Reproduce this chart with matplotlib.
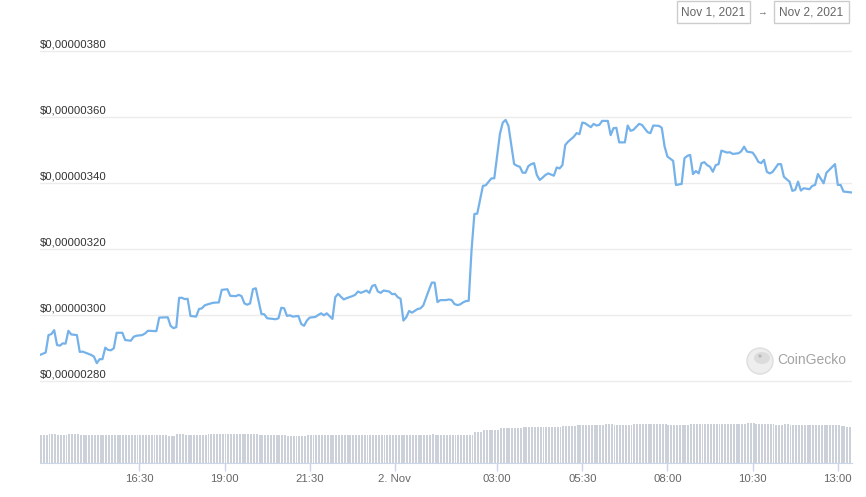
import numpy as np
import pandas as pd
import matplotlib
matplotlib.use("Agg")
import matplotlib.pyplot as plt
from matplotlib.patches import Rectangle, Circle, Ellipse

plt.rcParams['font.family'] = ['Liberation Sans', 'DejaVu Sans']

# price, in 1e-8 USD, minutes after 1 Nov 13:35
t_min = [0, 10, 15, 20, 25, 30, 35, 40, 45, 50, 55, 65, 70, 75, 90, 95, 100, 105, 110, 115,
         120, 125, 130, 135, 145, 150, 160, 165, 170, 180, 185, 190, 205, 210, 225, 230, 235, 240, 245, 250,
         255, 260, 265, 275, 280, 285, 290, 295, 305, 315, 320, 330, 335, 345, 350, 355, 360, 365, 370, 375,
         380, 390, 395, 400, 415, 420, 425, 430, 435, 440, 445, 455, 460, 465, 470, 475, 485, 490, 495, 500,
         505, 515, 520, 525, 530, 535, 540, 550, 555, 560, 565, 575, 580, 585, 590, 595, 600, 605, 615, 620,
         625, 630, 635, 640, 645, 650, 655, 665, 670, 675, 685, 690, 695, 700, 705, 715, 720, 725, 730, 735,
         740, 745, 750, 755, 760, 765, 770, 780, 785, 795, 800, 810, 815, 820, 825, 835, 840, 845, 850, 855,
         860, 865, 870, 875, 880, 885, 890, 895, 905, 910, 915, 920, 925, 930, 940, 945, 950, 955, 960, 970,
         975, 980, 985, 990, 1000, 1005, 1010, 1015, 1020, 1030, 1035, 1040, 1045, 1055, 1060, 1070, 1075, 1080, 1090, 1095,
         1100, 1105, 1115, 1120, 1130, 1135, 1140, 1145, 1150, 1155, 1160, 1165, 1170, 1175, 1180, 1185, 1190, 1195, 1200, 1210,
         1215, 1220, 1230, 1235, 1240, 1245, 1255, 1260, 1265, 1270, 1275, 1280, 1285, 1290, 1300, 1305, 1310, 1315, 1320, 1325,
         1330, 1335, 1340, 1345, 1355, 1360, 1365, 1370, 1380, 1385, 1400, 1405, 1410, 1415, 1430]
price = [288.0, 288.7, 294.0, 294.3, 295.5, 291.0, 290.8, 291.5, 291.4, 295.3, 294.2, 294.0, 288.9, 289.0, 288.0, 287.5, 285.5, 286.7, 286.7, 290.2,
         289.5, 289.4, 290.0, 294.7, 294.7, 292.5, 292.3, 293.5, 293.8, 294.0, 294.5, 295.3, 295.2, 299.3, 299.4, 296.8, 296.1, 296.4, 305.3, 305.3,
         304.9, 305.0, 299.8, 299.6, 301.9, 302.1, 303.0, 303.3, 303.8, 303.9, 307.7, 307.9, 305.9, 305.8, 306.2, 305.8, 303.6, 303.2, 303.6, 307.9,
         308.2, 300.4, 300.3, 299.1, 298.8, 299.1, 302.3, 302.1, 299.8, 300.0, 299.6, 299.8, 297.4, 296.8, 298.4, 299.3, 299.5, 300.1, 300.6, 300.0,
         300.6, 298.9, 305.5, 306.5, 305.6, 304.8, 305.2, 305.8, 306.2, 307.2, 306.8, 307.5, 306.8, 308.9, 309.2, 307.2, 306.8, 307.5, 307.2, 306.4,
         306.5, 305.5, 305.0, 298.4, 299.4, 301.3, 300.8, 301.9, 302.1, 303.0, 307.7, 309.9, 309.9, 304.0, 304.6, 304.6, 304.8, 304.6, 303.4, 303.1,
         303.3, 303.9, 304.3, 304.4, 319.8, 330.7, 330.8, 339.2, 339.4, 341.5, 341.5, 355.0, 358.4, 359.2, 357.4, 345.8, 345.3, 345.0, 343.2, 343.2,
         345.2, 345.8, 346.1, 342.5, 341.0, 341.7, 342.5, 343.0, 342.3, 344.8, 344.5, 345.5, 351.6, 352.6, 354.1, 355.2, 354.9, 358.4, 358.2, 357.0,
         358.0, 357.5, 357.7, 358.9, 358.9, 354.6, 356.7, 356.8, 352.4, 352.4, 357.5, 355.9, 356.2, 358.0, 357.7, 355.5, 355.2, 357.5, 357.4, 356.8,
         351.1, 348.1, 346.8, 339.5, 339.8, 347.6, 348.3, 348.6, 342.8, 343.7, 343.0, 346.1, 346.4, 345.5, 345.0, 343.5, 345.5, 345.8, 349.9, 349.3,
         349.4, 348.9, 349.1, 349.7, 351.1, 349.6, 349.3, 348.1, 346.5, 346.1, 347.1, 343.5, 343.0, 343.4, 345.8, 345.8, 342.0, 341.2, 340.5, 337.7,
         338.0, 340.5, 337.8, 338.5, 338.2, 339.2, 339.5, 342.8, 340.0, 343.2, 345.8, 339.5, 339.5, 337.5, 337.2]

# volume (relative), one bar per 5 minutes
volume = [28, 28, 28, 29, 29, 29, 28, 28, 28, 28, 29, 29,
          29, 29, 28, 28, 28, 28, 28, 28, 28, 28, 28, 28,
          28, 28, 28, 28, 28, 28, 28, 28, 28, 28,
          28, 28, 28, 28, 28, 28, 28, 28, 28, 28, 28, 27,
          27, 27, 29, 29, 29, 28, 28, 28, 28, 28, 28, 28,
          28, 29, 29, 29, 29, 29, 29, 29, 29, 29, 29, 29,
          29, 29, 29, 29, 29, 29, 29, 28, 28, 28, 28, 28,
          28, 28, 28, 28, 28, 27, 27, 27, 27, 27, 27, 27,
          28, 28, 28, 28, 28, 28, 28, 28, 28, 28, 28, 28,
          28, 28, 28, 28, 28, 28, 28, 28, 28, 28, 28, 28,
          28, 28, 28, 28, 28, 28, 28, 28, 28, 28, 28, 28,
          28, 28, 28, 28, 28, 28, 28, 28, 29, 28, 28, 28,
          28, 28, 28, 28, 28, 28, 28, 28, 28, 28, 28, 31,
          31, 31, 33, 33, 33, 33, 33, 33, 35, 35, 35, 35,
          35, 35, 35, 35, 36, 36, 36, 36, 36, 36, 36, 36,
          36, 36, 36, 36, 36, 36, 37, 37, 37, 37, 37, 38,
          38, 38, 38, 38, 38, 38, 38, 38, 38, 39, 39, 39,
          38, 38, 38, 38, 38, 38, 38, 39, 39, 39, 39, 39,
          39, 39, 39, 39, 39, 39, 39, 38, 38, 38, 38, 38,
          38, 38, 38, 39, 39, 39, 39, 39, 39, 39, 39, 39,
          39, 39, 39, 39, 39, 39, 39, 39, 39, 39, 39, 40,
          40, 40, 39, 39, 39, 39, 39, 39, 39, 38, 38, 38,
          39, 39, 38, 38, 38, 38, 38, 38, 38, 38, 38, 38,
          38, 38, 38, 38, 38, 38, 38, 38, 37, 37, 36, 36]

tick_times = ['2021-11-01 16:30', '2021-11-01 19:00', '2021-11-01 21:30', '2021-11-02 00:00',
              '2021-11-02 03:00', '2021-11-02 05:30', '2021-11-02 08:00', '2021-11-02 10:30',
              '2021-11-02 13:00']
tick_labels = ['16:30', '19:00', '21:30', '2. Nov', '03:00', '05:30', '08:00', '10:30', '13:00']
grid_values = [280, 300, 320, 340, 360, 380]

start = pd.Timestamp('2021-11-01 13:35')
times = start + pd.to_timedelta(t_min, unit='min')
vol_times = start + pd.to_timedelta(np.arange(len(volume)) * 5, unit='min')
x_end = start + pd.Timedelta(minutes=1430)

W, H = 866, 497
fig = plt.figure(figsize=(W / 100, H / 100), dpi=100)

# price panel
ax = fig.add_axes([40 / W, 1 - 400 / H, 812 / W, 360 / H])
ax.set_xlim(start, x_end)
ax.set_ylim(274.33e-8, 383.42e-8)
for v in grid_values:
    ax.axhline(v * 1e-8, color='#ececec', lw=1, zorder=0)
    lab = f"${v * 1e-8:.8f}".replace('.', ',')
    ax.annotate(lab, (0, v * 1e-8), xycoords=ax.get_yaxis_transform(),
                xytext=(0, 1.5), textcoords='offset points',
                ha='left', va='bottom', fontsize=8.2, color='#333333')
ax.plot(times, np.array(price) * 1e-8, color='#75b2ea', lw=1.6, zorder=3)
ax.axis('off')

# volume panel
axv = fig.add_axes([40 / W, 1 - 463 / H, 812 / W, 58 / H])
axv.bar(vol_times, volume, width=pd.Timedelta(minutes=3.4), align='edge',
        color='#ccd0d8', linewidth=0)
axv.set_xlim(start, x_end)
axv.set_ylim(0, 58)
for s in ['top', 'left', 'right']:
    axv.spines[s].set_visible(False)
axv.spines['bottom'].set_color('#ccd6eb')
axv.set_yticks([])
axv.set_xticks(pd.to_datetime(tick_times))
axv.set_xticklabels(tick_labels)
axv.tick_params(axis='x', length=6, width=1, color='#ccd6eb',
                labelcolor='#666666', labelsize=8.2, pad=2)

# overlay in pixel coordinates for the range boxes and watermark
ov = fig.add_axes([0, 0, 1, 1], facecolor='none')
ov.set_xlim(0, W)
ov.set_ylim(H, 0)
ov.axis('off')
for (x0, x1, txt) in [(677, 750, 'Nov 1, 2021'), (774, 849, 'Nov 2, 2021')]:
    ov.add_patch(Rectangle((x0, 1), x1 - x0, 22, fill=False, edgecolor='#cccccc', lw=1))
    ov.text((x0 + x1) / 2, 12.5, txt, ha='center', va='center', fontsize=8.6, color='#666666')
ov.text(761.5, 12.5, '\u2192', ha='center', va='center', fontsize=7, color='#666666')

ov.add_patch(Circle((760, 361), 13, facecolor='#eeeeee', edgecolor='#dddddd', lw=1))
ov.add_patch(Ellipse((762, 358), 16, 12, facecolor='#dcdcdc', edgecolor='none'))
ov.add_patch(Circle((760, 356), 1.6, facecolor='#b8b8b8', edgecolor='none'))
ov.text(777, 360, 'CoinGecko', ha='left', va='center', fontsize=10, color='#a3a3a3')

fig.savefig('out.png', dpi=100, facecolor='white')
